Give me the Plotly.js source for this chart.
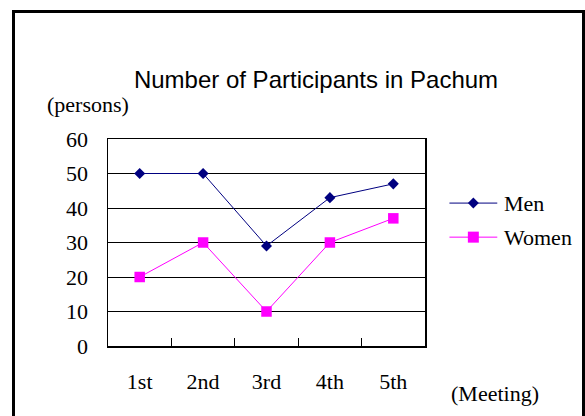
<!DOCTYPE html>
<html><head><meta charset="utf-8">
<script src="https://cdn.plot.ly/plotly-3.0.1.min.js"></script>
<style>
html,body{margin:0;padding:0;background:#fff;}
#wrap{position:relative;width:585px;height:416px;overflow:hidden;}
#chart{position:absolute;left:0;top:0;width:585px;height:416px;}
#frame{position:absolute;left:12px;top:10px;width:567px;height:420px;border:3px solid #000;pointer-events:none;}
</style></head>
<body><div id="wrap"><div id="chart"></div><div id="frame"></div></div>
<script>
const categories = ["1st","2nd","3rd","4th","5th"];
const seriesNames = ["Men", "Women"];
const men = [50, 50, 29, 43, 47];
const women = [20, 30, 10, 30, 37];
const yTicks = [0,10,20,30,40,50,60];
const colors = ["#000080", "#FF00FF"];

const serif = "Liberation Serif, Times New Roman, serif";
const sans = "Liberation Sans, Arial, sans-serif";

// plot box in pixels
const L = 107.5, R = 425.5, T = 139, B = 345.7;
const W = 585, H = 416;
const px2x = p => (p - L) / (R - L);
const px2y = p => (B - p) / (B - T);

const traces = [
  {x: categories, y: men, name: seriesNames[0], type: "scatter", mode: "lines+markers",
   line: {color: colors[0], width: 1}, marker: {symbol: "diamond", size: 8.5, color: colors[0]}},
  {x: categories, y: women, name: seriesNames[1], type: "scatter", mode: "lines+markers",
   line: {color: colors[1], width: 1}, marker: {symbol: "square", size: 10.5, color: colors[1]}}
];

// legend keys (drawn manually to match the long key lines)
const legendY = [203, 237];
const shapes = [];
const annotations = [
  {text: "(persons)", xref: "paper", yref: "paper", x: px2x(44), y: px2y(105),
   xanchor: "left", yanchor: "middle", showarrow: false, font: {family: serif, size: 22, color: "#000"}},
  {text: "(Meeting)", xref: "paper", yref: "paper", x: px2x(450), y: px2y(393),
   xanchor: "left", yanchor: "middle", showarrow: false, font: {family: serif, size: 22, color: "#000"}}
];
seriesNames.forEach((n, i) => {
  const y = legendY[i];
  shapes.push({type: "line", xref: "paper", yref: "paper", x0: px2x(450), x1: px2x(498), y0: px2y(y), y1: px2y(y),
               line: {color: colors[i], width: 1}});
  if (i === 0) {
    const cx = 474, h = 5.5;
    shapes.push({type: "path", xref: "paper", yref: "paper",
      path: `M${px2x(cx-h)},${px2y(y)} L${px2x(cx)},${px2y(y-h)} L${px2x(cx+h)},${px2y(y)} L${px2x(cx)},${px2y(y+h)} Z`,
      fillcolor: colors[i], line: {color: colors[i], width: 0}});
  } else {
    const cx = 474, h = 5.5;
    shapes.push({type: "rect", xref: "paper", yref: "paper", x0: px2x(cx-h), x1: px2x(cx+h), y0: px2y(y+h), y1: px2y(y-h),
      fillcolor: colors[i], line: {color: colors[i], width: 0}});
  }
  annotations.push({text: n, xref: "paper", yref: "paper", x: px2x(503), y: px2y(y), xanchor: "left", yanchor: "middle",
    showarrow: false, font: {family: serif, size: 22, color: "#000"}});
});

const layout = {
  width: W, height: H,
  margin: {l: L, r: W - R, t: T, b: H - B},
  paper_bgcolor: "#fff", plot_bgcolor: "#fff",
  showlegend: false,
  title: {text: "Number of Participants in Pachum", font: {family: sans, size: 24, color: "#000"},
          x: 316/585, xanchor: "center", y: 1 - 80/416, yanchor: "middle", yref: "container"},
  xaxis: {type: "category", range: [-0.5, 4.5], showline: true, mirror: true, linecolor: "#000", linewidth: 1.5,
          ticks: "inside", tickson: "boundaries", ticklen: 8, tickcolor: "#000", tickwidth: 1,
          showgrid: false, zeroline: false, ticklabelstandoff: 15,
          tickfont: {family: serif, size: 22, color: "#000"}, fixedrange: true},
  yaxis: {range: [0, 60], tickvals: yTicks, showline: true, mirror: true, linecolor: "#000", linewidth: 1.5,
          ticks: "", showgrid: true, gridcolor: "#000", gridwidth: 1, zeroline: false, ticklabelstandoff: 14,
          tickfont: {family: serif, size: 22, color: "#000"}, fixedrange: true},
  shapes: shapes,
  annotations: annotations
};
Plotly.newPlot("chart", traces, layout, {displayModeBar: false, staticPlot: true});
</script></body></html>
